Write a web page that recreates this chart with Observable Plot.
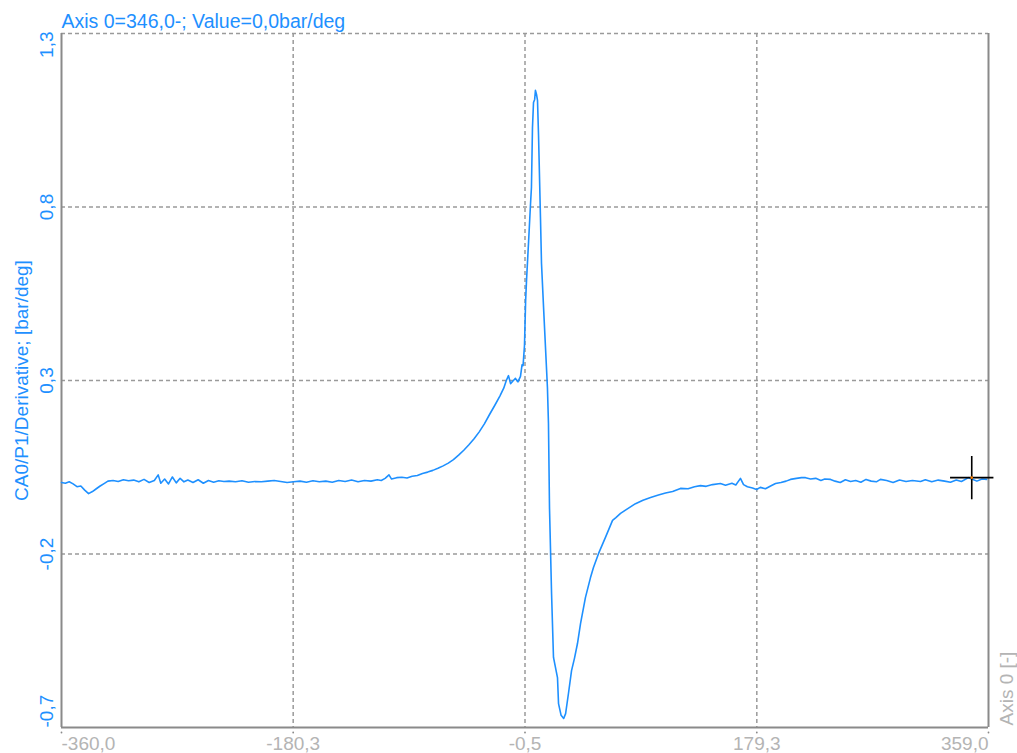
<!DOCTYPE html>
<html>
<head>
<meta charset="utf-8">
<script src="https://cdn.jsdelivr.net/npm/d3@7"></script>
<script src="https://cdn.jsdelivr.net/npm/@observablehq/plot@0.6"></script>
<style>
  html, body { margin: 0; padding: 0; background: #fff; overflow: hidden; }
  #chart svg { display: block; }
</style>
</head>
<body>
<div id="chart"></div>
<script>
// ---- data ----
const angles = [
  -360, -357, -354, -351, -348, -345, -342, -339, -336, -333, -330, -327, -324, -320, -316, -312, -308, -304, -300, -296,
  -292, -288, -285, -283, -280, -277, -274, -271, -268, -265, -262, -258, -254, -250, -246, -242, -238, -234, -230, -225,
  -220, -215, -210, -205, -200, -195, -190, -185, -180, -175, -170, -165, -160, -155, -150, -145, -140, -135, -130, -125,
  -120, -115, -112, -109, -106, -104, -100, -96, -92, -88, -84, -80, -76, -72, -68, -64, -60, -56, -52, -48,
  -44, -40, -36, -32, -28, -24, -20, -17, -15, -13.3, -11.7, -9.5, -7.9, -6, -4, -2.8, -2, -0.9, 0, 0.7,
  2.2, 3.8, 4.5, 5.3, 6.1, 7, 7.6, 8.4, 9.2, 10, 11.5, 12.3, 13.9, 16.9, 17.7, 18.5, 20.1, 21.6, 24.7, 25.5,
  27.5, 29.5, 31, 33.2, 35.6, 37.9, 40.2, 42.6, 46.4, 50.3, 52.6, 56.5, 61.9, 67.4, 70, 73.6, 78, 85.2, 91, 96.9,
  103, 108.5, 114, 120.1, 126, 131, 135.6, 140, 145, 151.1, 155, 160, 163, 166.6, 169, 172, 176, 179.1, 182, 186,
  190, 193.8, 198, 202, 205.4, 210, 214, 217.1, 221, 225, 229, 232, 236.5, 240, 244, 248, 252, 256, 260, 264,
  268, 272, 275.2, 280, 285, 290, 295, 300, 306.3, 310, 315, 320, 325, 329.5, 334, 338, 343.5, 346, 350, 354, 357.5
];
const values = [
  0.006, 0.004, 0.008, 0.002, -0.006, -0.004, -0.016, -0.026, -0.020, -0.012, -0.004, 0.003, 0.010, 0.012, 0.009, 0.014, 0.011, 0.013, 0.008, 0.015,
  0.006, 0.012, 0.028, 0.004, 0.016, 0.002, 0.022, 0.005, 0.018, 0.008, 0.013, 0.006, 0.014, 0.004, 0.012, 0.007, 0.011, 0.009, 0.010, 0.008,
  0.011, 0.007, 0.009, 0.008, 0.010, 0.012, 0.009, 0.006, 0.008, 0.010, 0.007, 0.011, 0.008, 0.010, 0.007, 0.012, 0.009, 0.013, 0.008, 0.012,
  0.010, 0.014, 0.012, 0.018, 0.028, 0.016, 0.020, 0.021, 0.019, 0.024, 0.026, 0.032, 0.036, 0.041, 0.047, 0.054, 0.062, 0.072, 0.085, 0.099,
  0.115, 0.132, 0.152, 0.175, 0.202, 0.228, 0.255, 0.278, 0.300, 0.314, 0.291, 0.300, 0.306, 0.296, 0.312, 0.345, 0.343, 0.401, 0.531, 0.590,
  0.695, 0.810, 0.856, 1.029, 1.101, 1.110, 1.136, 1.125, 1.107, 1.006, 0.770, 0.637, 0.510, 0.280, 0.176, -0.066, -0.314, -0.498, -0.556, -0.631,
  -0.665, -0.674, -0.660, -0.602, -0.536, -0.500, -0.458, -0.400, -0.325, -0.268, -0.239, -0.199, -0.152, -0.103, -0.095, -0.083, -0.072, -0.055, -0.045, -0.037,
  -0.030, -0.024, -0.020, -0.011, -0.012, -0.006, -0.003, -0.005, 0.000, 0.003, -0.002, 0.004, -0.001, 0.018, 0.000, -0.006, -0.010, -0.014, -0.008, -0.012,
  -0.004, 0.003, 0.006, 0.010, 0.015, 0.018, 0.020, 0.020, 0.016, 0.018, 0.012, 0.016, 0.015, 0.010, 0.006, 0.014, 0.009, 0.012, 0.007, 0.015,
  0.010, 0.008, 0.015, 0.012, 0.006, 0.013, 0.009, 0.012, 0.009, 0.014, 0.008, 0.013, 0.010, 0.007, 0.013, 0.009, 0.020, 0.016, 0.010, 0.016, 0.015
];
const xTicks = [-360.0, -180.3, -0.5, 179.3, 359.0];
const xTickLabels = ["-360,0", "-180,3", "-0,5", "179,3", "359,0"];
const yTicks = [1.3, 0.8, 0.3, -0.2, -0.7];
const yTickLabels = ["1,3", "0,8", "0,3", "-0,2", "-0,7"];
const titleText = "Axis 0=346,0-; Value=0,0bar/deg";
const yLabel = "CA0/P1/Derivative; [bar/deg]";
const xLabel = "Axis 0 [-]";
const cursor = [{angle: 346, value: 0.02}];

// ---- build ----
const data = angles.map((a, i) => ({angle: a, value: values[i]}));
const xT = xTicks.map((v, i) => ({v, label: xTickLabels[i], i}));
const yT = yTicks.map((v, i) => ({v, label: yTickLabels[i], i}));

const BLUE = "#1e90ff";
const GRAY_TEXT = "#b4b4b4";
const FRAME = "#8a8a8a";
const GRID = "#9a9a9a";
const FS = 19;

const chart = Plot.plot({
  width: 1017,
  height: 753,
  marginLeft: 61,
  marginRight: 29,
  marginTop: 33,
  marginBottom: 26,
  x: {domain: [-360, 359], axis: null},
  y: {domain: [-0.7, 1.3], axis: null},
  style: {fontFamily: "'Liberation Sans', Arial, sans-serif", fontSize: FS + "px", background: "#fff", overflow: "visible"},
  marks: [
    // dashed grid
    Plot.ruleX(xTicks.slice(1, -1), {stroke: GRID, strokeWidth: 1.5, strokeDasharray: "4,3"}),
    Plot.ruleY(yTicks.slice(0, -1), {stroke: GRID, strokeWidth: 1.5, strokeDasharray: "4,3"}),
    // frame lines (left, right, bottom)
    Plot.ruleX([xTicks[0], xTicks[xTicks.length - 1]], {stroke: FRAME, strokeWidth: 2}),
    Plot.ruleY([yTicks[yTicks.length - 1]], {stroke: FRAME, strokeWidth: 2}),
    // small tick marks
    Plot.dot(xT, {x: "v", y: () => -0.7, dy: 5, r: 0.9, fill: FRAME, stroke: null}),
    // data line
    Plot.line(data, {x: "angle", y: "value", stroke: BLUE, strokeWidth: 1.6}),
    // cursor
    Plot.dot(cursor, {x: "angle", y: "value", symbol: "plus", r: 14, stroke: "#000", strokeWidth: 1.6}),
    Plot.dot(cursor, {x: "angle", y: "value", r: 1.3, fill: "#ff8000", stroke: null}),
    // y tick labels
    Plot.text(yT.filter(d => d.i === 0), {y: "v", text: "label", frameAnchor: "left", dx: -9, dy: -2, rotate: -90, textAnchor: "end", lineAnchor: "bottom", fill: BLUE, fontSize: FS}),
    Plot.text(yT.filter(d => d.i > 0 && d.i < yT.length - 1), {y: "v", text: "label", frameAnchor: "left", dx: -9, rotate: -90, textAnchor: "middle", lineAnchor: "bottom", fill: BLUE, fontSize: FS}),
    Plot.text(yT.filter(d => d.i === yT.length - 1), {y: "v", text: "label", frameAnchor: "left", dx: -9, rotate: -90, textAnchor: "start", lineAnchor: "bottom", fill: BLUE, fontSize: FS}),
    // x tick labels
    Plot.text(xT.filter(d => d.i === 0), {x: "v", text: "label", frameAnchor: "bottom", dy: 9, textAnchor: "start", lineAnchor: "top", fill: GRAY_TEXT, fontSize: FS}),
    Plot.text(xT.filter(d => d.i > 0 && d.i < xT.length - 1), {x: "v", text: "label", frameAnchor: "bottom", dy: 9, textAnchor: "middle", lineAnchor: "top", fill: GRAY_TEXT, fontSize: FS}),
    Plot.text(xT.filter(d => d.i === xT.length - 1), {x: "v", text: "label", frameAnchor: "bottom", dy: 9, textAnchor: "end", lineAnchor: "top", fill: GRAY_TEXT, fontSize: FS}),
    // axis labels
    Plot.text([yLabel], {text: d => d, frameAnchor: "left", dx: -34, rotate: -90, textAnchor: "middle", lineAnchor: "bottom", fill: BLUE, fontSize: FS}),
    Plot.text([xLabel], {text: d => d, frameAnchor: "bottom-right", dx: 24, dy: -2, rotate: -90, textAnchor: "start", lineAnchor: "bottom", fill: GRAY_TEXT, fontSize: FS}),
    // title
    Plot.text([titleText], {text: d => d, frameAnchor: "top-left", dx: 0, dy: -6, textAnchor: "start", lineAnchor: "bottom", fill: BLUE, fontSize: 19.5})
  ]
});
document.getElementById("chart").appendChild(chart);
</script>
</body>
</html>
